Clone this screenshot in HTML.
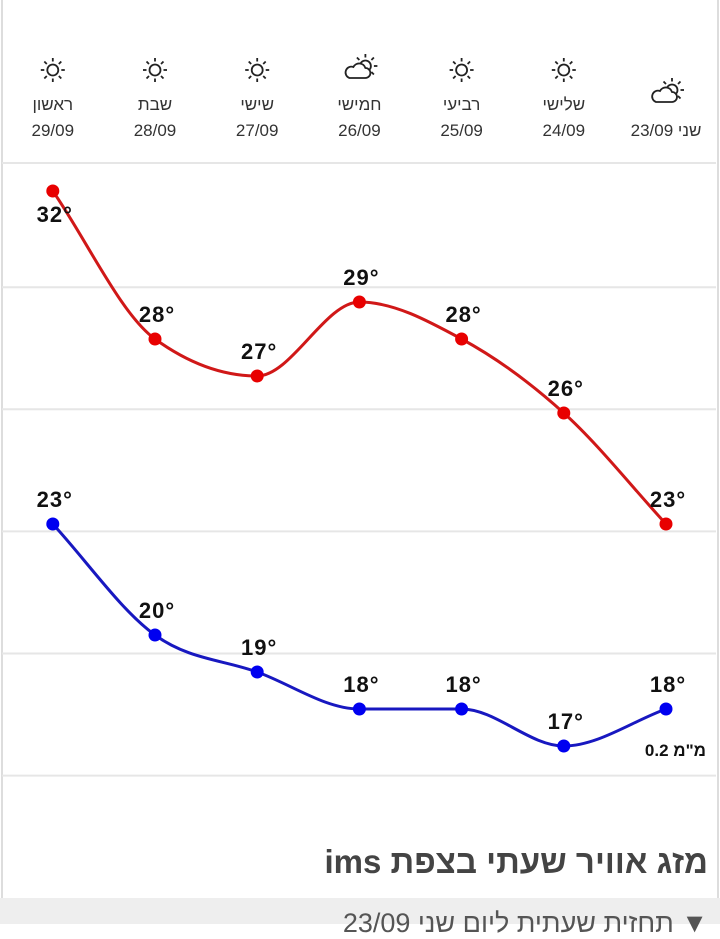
<!DOCTYPE html>
<html><head><meta charset="utf-8">
<style>
html,body{margin:0;padding:0;background:#fff;}
body{width:720px;height:924px;position:relative;overflow:hidden;font-family:"Liberation Sans","DejaVu Sans",sans-serif;}
.border{position:absolute;top:0;bottom:0;width:2px;background:#ddd;}
.title{position:absolute;right:12px;top:843px;font-size:33px;font-weight:bold;color:#444;direction:rtl;font-family:"Liberation Sans","DejaVu Sans",sans-serif;}
.bar{position:absolute;left:0;right:0;top:898px;height:26px;background:#eee;}
.bar span{position:absolute;right:12px;top:10px;font-size:27px;color:#555;direction:rtl;white-space:nowrap;}
</style></head>
<body>
<div class="border" style="left:1px"></div>
<div class="border" style="left:717px"></div>
<svg id="chart" width="720" height="800" style="position:absolute;left:0;top:0">
<g id="header"></g>
<g id="grid"></g>
<g id="lines"></g>
<g id="labels"></g>
</svg>
<div class="title">מזג אוויר שעתי בצפת ims</div>
<div class="bar"><span>▼ תחזית שעתית ליום שני 23/09</span></div>
<script>
const days = ["שני","שלישי","רביעי","חמישי","שישי","שבת","ראשון"];
const dates = ["23/09","24/09","25/09","26/09","27/09","28/09","29/09"];
const icons = ["partly","sun","sun","partly","sun","sun","sun"];
const highs = [23,26,28,29,27,28,32];
const lows = [18,17,18,18,19,20,23];
const gridTemps = [32.75,29.4,26.1,22.8,19.5,16.2];
const rainText = "0.2 מ\"מ";

const NS="http://www.w3.org/2000/svg";
function x(i){return 666 - i*102.2;}
function y(t){return 191 + (32 - t)*37;}
function mk(tag,attrs,parent){const e=document.createElementNS(NS,tag);for(const k in attrs)e.setAttribute(k,attrs[k]);parent.appendChild(e);return e;}

const grid=document.getElementById('grid');
mk('line',{x1:2,x2:716,y1:163,y2:163,stroke:'#e6e6e6','stroke-width':2},grid);
gridTemps.slice(1).forEach(t=>{
  const l=mk('line',{x1:2,x2:716,y1:y(t),y2:y(t),stroke:'#e6e6e6','stroke-width':2},grid);
  
  
});

const header=document.getElementById('header');
function sun(g,cx,cy){
  mk('circle',{cx:cx,cy:cy,r:5.5,fill:'none',stroke:'#222','stroke-width':1.8},g);
  for(let k=0;k<8;k++){const a=k*Math.PI/4;
    mk('line',{x1:cx+8.5*Math.cos(a),y1:cy+8.5*Math.sin(a),x2:cx+12*Math.cos(a),y2:cy+12*Math.sin(a),stroke:'#222','stroke-width':1.8},g);}
}
function partly(g,cx,cy){
  const sx=cx+6,sy=cy-4;
  mk('circle',{cx:sx,cy:sy,r:5.5,fill:'none',stroke:'#222','stroke-width':1.8},g);
  for(let k=-3;k<=2;k++){const a=k*Math.PI/4;
    mk('line',{x1:sx+8.5*Math.cos(a),y1:sy+8.5*Math.sin(a),x2:sx+12*Math.cos(a),y2:sy+12*Math.sin(a),stroke:'#222','stroke-width':1.8},g);}
  mk('path',{d:`M${cx-10} ${cy+8} h16 a5 5 0 0 0 0 -10 a6.5 6.5 0 0 0 -12 -1 a5 5 0 0 0 -4 11 z`,fill:'#fff',stroke:'#222','stroke-width':1.8},g);
}
days.forEach((d,i)=>{
  const g=mk('g',{},header);
  
  
  const cx=x(i);
  const iy = i===0?94:70;
  if(icons[i]==='sun')sun(g,cx,iy);else partly(g,cx,iy);
  if(i===0){
    const t=mk('text',{x:cx,y:136,'text-anchor':'middle','font-size':17,fill:'#333'},g);
    t.textContent=d+" "+dates[i];
  }else{
    const t=mk('text',{x:cx,y:110,'text-anchor':'middle','font-size':17,fill:'#333'},g);
    t.textContent=d;
    const t2=mk('text',{x:cx,y:136,'text-anchor':'middle','font-size':17,fill:'#333'},g);
    t2.textContent=dates[i];
  }
});

// monotone cubic (like d3.curveMonotoneX)
function smoothPath(vals){
  const p=vals.map((v,i)=>[x(i),y(v)]).reverse();
  const n=p.length, s=[], m=[];
  for(let i=0;i<n-1;i++) s.push((p[i+1][1]-p[i][1])/(p[i+1][0]-p[i][0]));
  for(let i=0;i<n;i++){
    if(i===0) m.push(s[0]);
    else if(i===n-1) m.push(s[n-2]);
    else {
      const a=s[i-1],b=s[i];
      if(a*b<=0) m.push(0);
      else { const h0=p[i][0]-p[i-1][0],h1=p[i+1][0]-p[i][0];
        const pp=(a*h1+b*h0)/(h0+h1);
        m.push((Math.sign(a)+Math.sign(b))*Math.min(Math.abs(a),Math.abs(b),0.5*Math.abs(pp))); }
    }
  }
  let d=`M${p[0][0]} ${p[0][1]}`;
  for(let i=0;i<n-1;i++){
    const h=(p[i+1][0]-p[i][0])/3;
    d+=` C${p[i][0]+h} ${p[i][1]+h*m[i]} ${p[i+1][0]-h} ${p[i+1][1]-h*m[i+1]} ${p[i+1][0]} ${p[i+1][1]}`;
  }
  return d;
}
const lines=document.getElementById('lines');
const labels=document.getElementById('labels');
function series(vals,stroke,dot,name,labelBelowFirst){
  const path=mk('path',{d:smoothPath(vals),fill:'none',stroke:stroke,'stroke-width':3},lines);
  
  
  vals.forEach((v,i)=>{
    const c=mk('circle',{cx:x(i),cy:y(v),r:6.5,fill:dot},lines);
    
    
    const below = labelBelowFirst && i===vals.length-1;
    const t=mk('text',{x:x(i)+2,y:below?y(v)+31:y(v)-17,'text-anchor':'middle','font-size':22,'font-weight':'bold',fill:'#111','letter-spacing':'1'},labels);
    
    
    t.textContent=v+"°";
  });
}
series(highs,'#d01818','#e80000','high-temp',true);
series(lows,'#1818c0','#0000f0','low-temp',false);
const r=mk('text',{x:706,y:756,'text-anchor':'end','font-size':17,'font-weight':'bold',fill:'#111'},labels);


r.textContent=rainText;
</script>
</body></html>
